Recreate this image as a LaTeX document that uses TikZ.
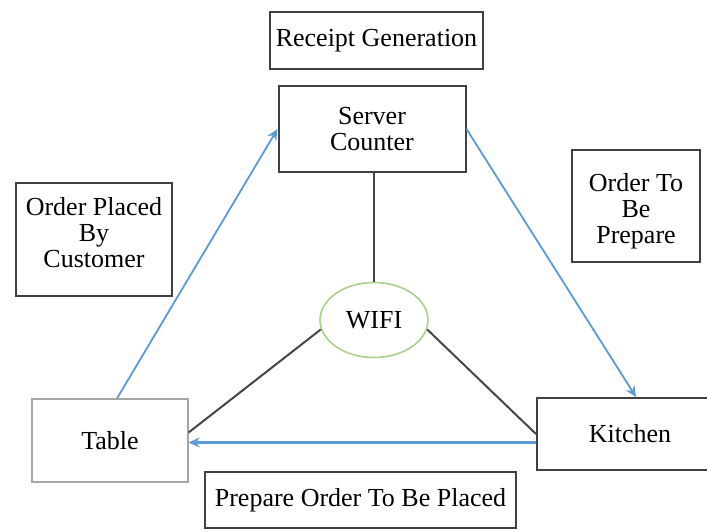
\documentclass[tikz,border=0pt]{standalone}
\usepackage{fontspec}
\setmainfont{Liberation Serif}
\usetikzlibrary{shapes.geometric,arrows.meta}
\definecolor{arrowblue}{RGB}{91,155,213}
\definecolor{wifigreen}{RGB}{169,209,142}
\definecolor{linegray}{RGB}{70,70,70}
\tikzset{
  boxfont/.style={font=\fontsize{13}{13}\selectfont},
  box/.style={draw=black!75, line width=1pt, fill=white, rectangle, inner sep=0pt,
    align=center, boxfont},
  lightbox/.style={box, draw=black!35, line width=0.6pt},
  flow/.style={draw=arrowblue, line width=0.9pt, -{Stealth[length=5.5pt,width=5pt]}},
  link/.style={draw=linegray, line width=1pt},
}
\begin{document}
\begin{tikzpicture}[x=0.5pt,y=-0.5pt]
\clip (0,0) rectangle (707,531);
\fill[white] (0,0) rectangle (707,531);
\node[box, minimum width=106.5pt, minimum height=28.5pt] (rc) at (376.5,40.5) {Receipt Generation};
\node[box, minimum width=93.5pt, minimum height=43pt] (sc) at (372,129) {Server\\Counter};
\node[box, minimum width=78pt, minimum height=56.5pt,
  label={[boxfont, align=center, yshift=3.5pt]center:Order Placed\\By\\Customer}] (opc) at (94,239.5) {};
\node[box, minimum width=64pt, minimum height=56pt,
  label={[boxfont, align=center, yshift=-2.5pt]center:Order To\\Be\\Prepare}] (otp) at (636,206) {};
\node[ellipse, draw=wifigreen, line width=0.8pt, inner sep=0pt, minimum width=54pt, minimum height=37.5pt,
  boxfont] (wifi) at (374,320) {WIFI};
\node[lightbox, minimum width=78pt, minimum height=41.5pt] (tab) at (110,440.5) {Table};
\node[box, minimum width=93pt, minimum height=36pt] (kit) at (630,434) {Kitchen};
\node[box, minimum width=155.5pt, minimum height=28pt] (pop) at (360.5,500) {Prepare Order To Be Placed};
% network links
\draw[link] (wifi.north |- sc.south) -- (wifi.north);
\draw[link] (wifi.190) -- ([yshift=4pt]tab.east);
\draw[link] (wifi.-10) -- (kit.west);
% order flow
\draw[flow] ([xshift=3.5pt]tab.north) -- (sc.west);
\draw[flow] (sc.east) -- ([xshift=3pt]kit.north);
\draw[flow, line width=1.4pt] ([yshift=-1pt]kit.west |- tab.east) -- ([yshift=-1pt]tab.east);
\end{tikzpicture}
\end{document}
